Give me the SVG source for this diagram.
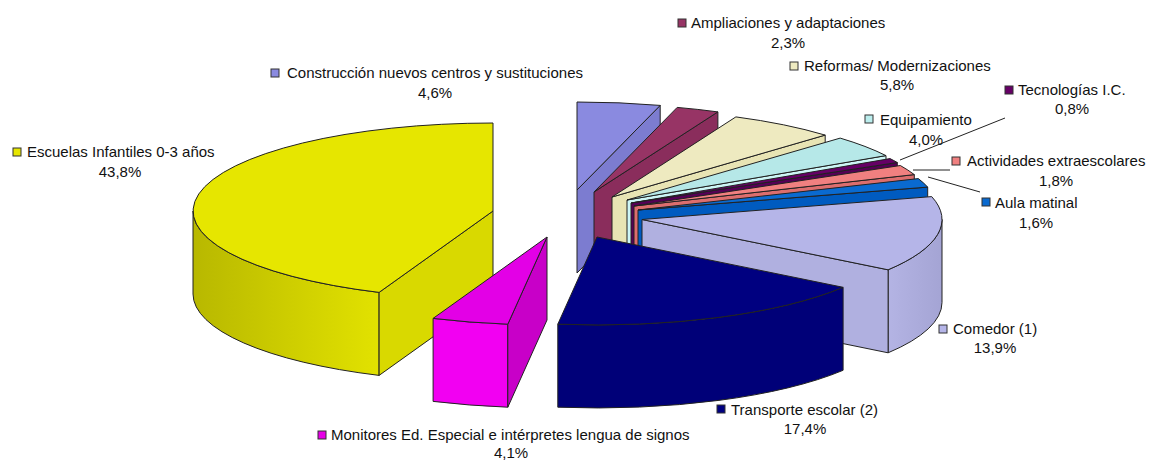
<svg xmlns="http://www.w3.org/2000/svg" width="1149" height="461" viewBox="0 0 1149 461">
<defs>
<linearGradient id="gYel" x1="193" y1="0" x2="380" y2="0" gradientUnits="userSpaceOnUse">
<stop offset="0" stop-color="#B8B800"/><stop offset="1" stop-color="#E2E200"/>
</linearGradient>
<linearGradient id="gCom" x1="888" y1="0" x2="942" y2="0" gradientUnits="userSpaceOnUse">
<stop offset="0" stop-color="#B4B4E4"/><stop offset="1" stop-color="#A4A4D4"/>
</linearGradient>
</defs>
<style>
.f{stroke:#222;stroke-width:1;stroke-linejoin:round}
.t{font-family:"Liberation Sans",Arial,sans-serif;font-size:15px;fill:#111}
.c{text-anchor:middle}
.m{stroke:#333;stroke-width:1}
.ld{stroke:#222;stroke-width:1;fill:none}
</style>
<rect width="1149" height="461" fill="#fff"/>

<g id="escuelas">
<path class="f" fill="url(#gYel)" d="M193,211 A300,88 0 0 0 379.1,292.4 L379.1,375.4 A300,88 0 0 1 193,294 Z"/>
<path class="f" fill="#D9D900" d="M493,211 L379.1,292.4 L379.1,375.4 L493,294 Z"/>
<path class="f" fill="#E6E600" d="M493,211 L493,123 A300,88 0 0 0 379.1,292.4 Z"/>
</g>

<g id="construccion">
<path class="f" fill="#7C7CD0" d="M577,190 L660.2,105.4 L660.2,188.4 L577,273 Z"/>
<path class="f" fill="#8A8AE0" d="M577,190 L660.2,105.4 A300,88 0 0 0 577,102 Z"/>
</g>
<g id="ampliaciones">
<path class="f" fill="#8A2D5C" d="M594,192 L717.9,111.9 L717.9,194.9 L594,275 Z"/>
<path class="f" fill="#973465" d="M594,192 L717.9,111.9 A300,88 0 0 0 677.2,107.4 Z"/>
</g>
<g id="reformas">
<path class="f" fill="#E8E4B4" d="M612,197 L825.2,135.1 L825.2,218.1 L612,280 Z"/>
<path class="f" fill="#EEEAC0" d="M612,197 L825.2,135.1 A300,88 0 0 0 735.9,116.9 Z"/>
</g>
<g id="equipamiento">
<path class="f" fill="#CDF6F6" d="M627,200 L886,155.6 L886,238.6 L627,283 Z"/>
<path class="f" fill="#B6E8E8" d="M627,200 L886,155.6 A300,88 0 0 0 840.2,138.1 Z"/>
</g>
<g id="tecnologias">
<path class="f" fill="#550055" d="M631,203 L897.3,162.5 L897.3,245.5 L631,286 Z"/>
<path class="f" fill="#660066" d="M631,203 L897.3,162.5 A300,88 0 0 0 890,158.6 Z"/>
</g>
<g id="actividades">
<path class="f" fill="#DC6E6E" d="M634,206 L914.3,174.6 L914.3,257.6 L634,289 Z"/>
<path class="f" fill="#F08080" d="M634,206 L914.3,174.6 A300,88 0 0 0 900.3,165.5 Z"/>
</g>
<g id="aula">
<path class="f" fill="#005BC0" d="M638,210 L927.7,187.1 L927.7,270.1 L638,293 Z"/>
<path class="f" fill="#0A6AD0" d="M638,210 L927.7,187.1 A300,88 0 0 0 918.3,178.6 Z"/>
</g>
<g id="comedor">
<path class="f" fill="url(#gCom)" d="M888.1,269.8 A300,88 0 0 0 942,219.5 L942,302.5 A300,88 0 0 1 888.1,352.8 Z"/>
<path class="f" fill="#B0B0E0" d="M642,219.5 L888.1,269.8 L888.1,352.8 L642,302.5 Z"/>
<path class="f" fill="#B5B5E8" d="M642,219.5 L888.1,269.8 A300,88 0 0 0 931.7,196.6 Z"/>
</g>
<g id="transporte">
<path class="f" fill="#000078" d="M557.8,324.2 A300,88 0 0 0 843.1,287.3 L843.1,370.3 A300,88 0 0 1 557.8,407.2 Z"/>
<path class="f" fill="#000080" d="M597,237 L557.8,324.2 A300,88 0 0 0 843.1,287.3 Z"/>
</g>
<g id="monitores">
<path class="f" fill="#F200F2" d="M433.1,318.4 A300,88 0 0 0 507.8,324.2 L507.8,407.2 A300,88 0 0 1 433.1,401.4 Z"/>
<path class="f" fill="#C800C8" d="M547,237 L507.8,324.2 L507.8,407.2 L547,320 Z"/>
<path class="f" fill="#E300E6" d="M547,237 L433.1,318.4 A300,88 0 0 0 507.8,324.2 Z"/>
</g>

<g id="connectors">
<line class="ld" x1="1005" y1="118" x2="900" y2="160"/>
<line class="ld" x1="950" y1="170" x2="913" y2="170"/>
<line class="ld" x1="980" y1="192" x2="928" y2="177"/>
</g>

<g id="label-construccion">
<rect class="m" x="271" y="69" width="8" height="8" fill="#8A8AE0"/>
<text class="t" x="287" y="78">Construcción nuevos centros y sustituciones</text>
<text class="t c" x="435" y="98">4,6%</text>
</g>
<g id="label-escuelas">
<rect class="m" x="13" y="148" width="8" height="8" fill="#E6E600"/>
<text class="t" x="27" y="157">Escuelas Infantiles 0-3 años</text>
<text class="t c" x="120" y="177">43,8%</text>
</g>
<g id="label-ampliaciones">
<rect class="m" x="678" y="19" width="8" height="8" fill="#973465"/>
<text class="t" x="691" y="28">Ampliaciones y adaptaciones</text>
<text class="t c" x="788" y="48">2,3%</text>
</g>
<g id="label-reformas">
<rect class="m" x="790" y="62" width="8" height="8" fill="#EEEAC0"/>
<text class="t" x="804" y="71">Reformas/ Modernizaciones</text>
<text class="t c" x="897" y="90">5,8%</text>
</g>
<g id="label-tecnologias">
<rect class="m" x="1005" y="86" width="8" height="8" fill="#660066"/>
<text class="t" x="1018" y="95">Tecnologías I.C.</text>
<text class="t c" x="1072" y="114">0,8%</text>
</g>
<g id="label-equipamiento">
<rect class="m" x="865" y="115" width="8" height="8" fill="#BCEEEE"/>
<text class="t" x="880" y="125">Equipamiento</text>
<text class="t c" x="926" y="145">4,0%</text>
</g>
<g id="label-actividades">
<rect class="m" x="952" y="157" width="8" height="8" fill="#F08080"/>
<text class="t" x="967" y="166">Actividades extraescolares</text>
<text class="t c" x="1056" y="186">1,8%</text>
</g>
<g id="label-aula">
<rect class="m" x="982" y="198" width="8" height="8" fill="#0A6AD0"/>
<text class="t" x="995" y="208">Aula matinal</text>
<text class="t c" x="1036" y="228">1,6%</text>
</g>
<g id="label-comedor">
<rect class="m" x="939" y="325" width="8" height="8" fill="#B5B5E8"/>
<text class="t" x="953" y="334">Comedor (1)</text>
<text class="t c" x="995" y="353">13,9%</text>
</g>
<g id="label-transporte">
<rect class="m" x="717" y="405" width="8" height="8" fill="#000080"/>
<text class="t" x="731" y="415">Transporte escolar (2)</text>
<text class="t c" x="805" y="434">17,4%</text>
</g>
<g id="label-monitores">
<rect class="m" x="318" y="431" width="8" height="8" fill="#E600E6"/>
<text class="t" x="331" y="440">Monitores Ed. Especial e intérpretes lengua de signos</text>
<text class="t c" x="511" y="458">4,1%</text>
</g>
</svg>
